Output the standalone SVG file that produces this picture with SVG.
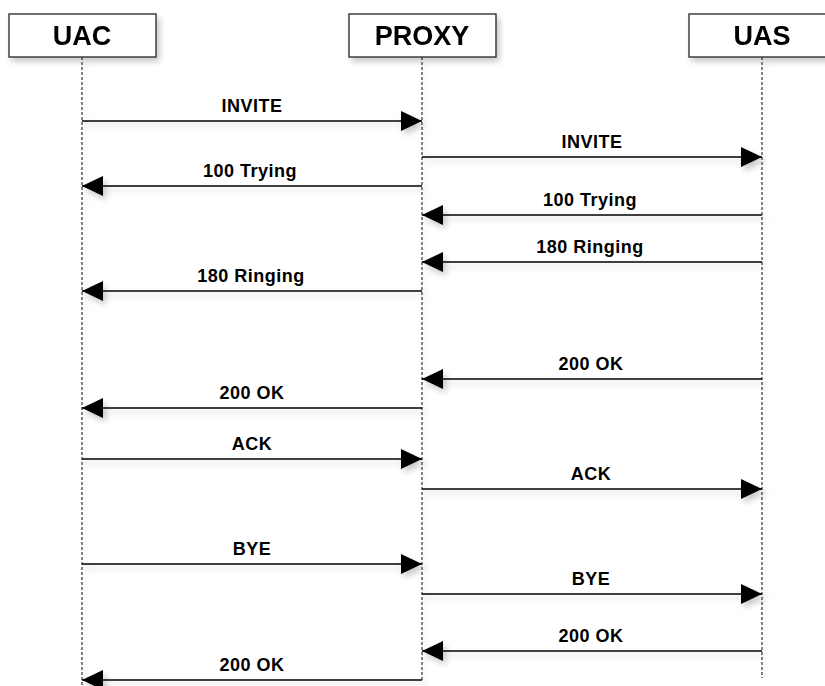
<svg xmlns="http://www.w3.org/2000/svg" width="825" height="686" viewBox="0 0 825 686">
  <style>
    .box { fill: #ffffff; stroke: #222222; stroke-width: 1.3; }
    .title { font-family: "Liberation Sans", Arial, sans-serif; font-weight: bold; font-size: 27px; fill: #000000; text-anchor: middle; }
    .life { stroke: #222222; stroke-width: 1.1; stroke-dasharray: 3 2; fill: none; }
    .msg { stroke: #000000; stroke-width: 1.4; fill: none; marker-end: url(#arrow); }
    .lbl { font-family: "Liberation Sans", Arial, sans-serif; font-weight: bold; font-size: 18px; fill: #000000; text-anchor: middle; letter-spacing: 0.5px; }
  </style>
  <defs>
    <marker id="arrow" markerUnits="userSpaceOnUse" markerWidth="22" markerHeight="22" refX="21" refY="10" orient="auto">
      <path d="M0,0 L21,10 L0,20 Z" fill="#000000"/>
    </marker>
    <filter id="shadow" x="-10%" y="-20%" width="130%" height="180%">
      <feGaussianBlur in="SourceAlpha" stdDeviation="3"/>
      <feOffset dx="3" dy="4" result="b"/>
      <feComponentTransfer><feFuncA type="linear" slope="0.22"/></feComponentTransfer>
      <feMerge><feMergeNode/><feMergeNode in="SourceGraphic"/></feMerge>
    </filter>
  </defs>
  <rect width="825" height="686" fill="#ffffff"/>

  <g id="lifelines" filter="url(#shadow)">
    <line class="life" x1="82" y1="57" x2="82" y2="686"/>
    <line class="life" x1="422" y1="57" x2="422" y2="680"/>
    <line class="life" x1="762" y1="57" x2="762" y2="678"/>
  </g>

  <g id="UAC" filter="url(#shadow)">
    <rect class="box" x="9" y="14" width="147" height="43"/>
    <text class="title" x="82" y="45">UAC</text>
  </g>
  <g id="PROXY" filter="url(#shadow)">
    <rect class="box" x="349" y="14" width="147" height="43"/>
    <text class="title" x="422" y="45">PROXY</text>
  </g>
  <g id="UAS" filter="url(#shadow)">
    <rect class="box" x="689" y="14" width="147" height="43"/>
    <text class="title" x="762" y="45">UAS</text>
  </g>

  <g id="connectors" filter="url(#shadow)">
    <line class="msg" x1="82" y1="121" x2="422" y2="121"/>
    <line class="msg" x1="422" y1="157" x2="762" y2="157"/>
    <line class="msg" x1="422" y1="186" x2="82" y2="186"/>
    <line class="msg" x1="762" y1="215" x2="422" y2="215"/>
    <line class="msg" x1="762" y1="262" x2="422" y2="262"/>
    <line class="msg" x1="422" y1="291" x2="82" y2="291"/>
    <line class="msg" x1="762" y1="379" x2="422" y2="379"/>
    <line class="msg" x1="422" y1="408" x2="82" y2="408"/>
    <line class="msg" x1="82" y1="459" x2="422" y2="459"/>
    <line class="msg" x1="422" y1="489" x2="762" y2="489"/>
    <line class="msg" x1="82" y1="564" x2="422" y2="564"/>
    <line class="msg" x1="422" y1="594" x2="762" y2="594"/>
    <line class="msg" x1="762" y1="651" x2="422" y2="651"/>
    <line class="msg" x1="422" y1="680" x2="82" y2="680"/>
  </g>

  <g id="labels">
    <text class="lbl" x="252" y="112">INVITE</text>
    <text class="lbl" x="592" y="148">INVITE</text>
    <text class="lbl" x="250" y="177">100 Trying</text>
    <text class="lbl" x="590" y="206">100 Trying</text>
    <text class="lbl" x="590" y="253">180 Ringing</text>
    <text class="lbl" x="251" y="282">180 Ringing</text>
    <text class="lbl" x="591" y="370">200 OK</text>
    <text class="lbl" x="252" y="399">200 OK</text>
    <text class="lbl" x="252" y="450">ACK</text>
    <text class="lbl" x="591" y="480">ACK</text>
    <text class="lbl" x="252" y="555">BYE</text>
    <text class="lbl" x="591" y="585">BYE</text>
    <text class="lbl" x="591" y="642">200 OK</text>
    <text class="lbl" x="252" y="671">200 OK</text>
  </g>
</svg>
